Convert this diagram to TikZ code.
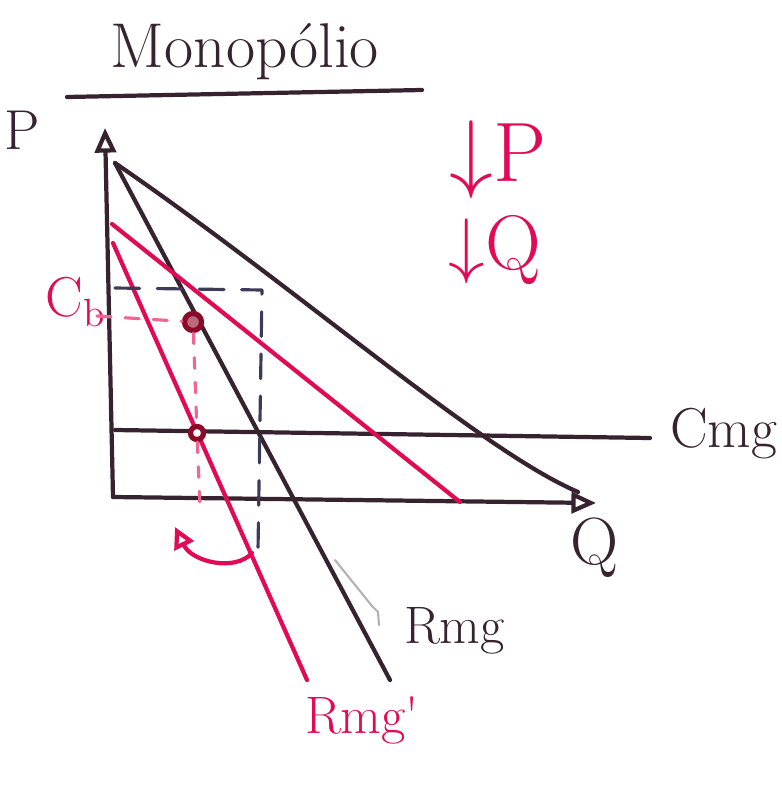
\documentclass[tikz,border=0pt]{standalone}
\usetikzlibrary{arrows.meta}
\definecolor{tinta}{HTML}{372330}
\definecolor{rojo}{HTML}{E10A55}
\definecolor{azul}{HTML}{3C3C5A}
\definecolor{rosa}{HTML}{F06496}
\definecolor{vino}{HTML}{8C0A28}

\begin{document}
\begin{tikzpicture}[x=0.01cm, y=-0.01cm, line width=1.2pt, line cap=round, line join=round,
  every node/.style={inner sep=0pt, text=tinta},
  eje/.style={draw=tinta, -{Triangle[open, length=7pt, width=6pt]}},
  curva/.style={draw=tinta},
  curvaroja/.style={draw=rojo},
  guia/.style={draw=azul, line width=0.9pt, dash pattern=on 7pt off 5pt},
  guiaroja/.style={draw=rosa, line width=0.9pt, dash pattern=on 4pt off 4pt},
  punto/.style={circle, draw=vino, line width=1.5pt, minimum size=#1},
  etiqueta/.style={font=\fontsize{15}{18}\selectfont}]

  \useasboundingbox (0,0) rectangle (782,785);

  % Título subrayado
  \node (titulo) at (245,52) {\fontsize{18}{22}\selectfont Monopólio};
  \coordinate (subA) at (67,97);
  \coordinate (subB) at (422,90);
  \draw[curva] (subA) -- (subB);

  % Ejes P y Q
  \coordinate (O) at (113,497);
  \coordinate (topeP) at (105,128);
  \coordinate (topeQ) at (596,503);
  \draw[eje] (O) -- (topeP);
  \draw[eje] (O) -- (topeQ);
  \node[font=\fontsize{16}{18}\selectfont] (P) at (22,130) {P};
  \node[font=\fontsize{19}{22}\selectfont] (Q) at (595,548) {Q};

  % Demanda y Rmg iniciales
  \coordinate (dA) at (115,163);
  \coordinate (dB) at (578,492);
  \coordinate (rB) at (390,680);
  \draw[curva] (dA) .. controls (300,290) and (480,450) .. (dB);
  \draw[curva] (dA) -- (rB);
  \node[etiqueta, anchor=base west] (Rmg) at (402,643) {Rmg};
  \draw[gray!60, line width=0.6pt] (335,560) -- (372,606) -- (378,612) -- (379,625);

  % Costo marginal
  \coordinate (cA) at (115,430);
  \coordinate (cB) at (650,438);
  \draw[curva] (cA) -- (cB);
  \node[font=\fontsize{16}{18}\selectfont, anchor=base west] (Cmg) at (668,447) {Cmg};

  % Nueva demanda y Rmg'
  \coordinate (nA) at (112,224);
  \coordinate (nB) at (460,502);
  \coordinate (mA) at (113,243);
  \coordinate (mB) at (307,680);
  \draw[curvaroja] (nA) -- (nB);
  \draw[curvaroja] (mA) -- (mB);
  \node[etiqueta, text=rojo, anchor=base west] (Rmgp) at (303,733) {Rmg\textquotesingle};

  % Guías del equilibrio inicial
  \coordinate (gA) at (115,288);
  \coordinate (gB) at (262,290);
  \coordinate (gC) at (258,550);
  \draw[guia] (gA) -- (gB) -- (gC);

  % Nuevo equilibrio
  \node[punto=1.7mm, fill=vino!60] (E1) at (193,322) {};
  \node[punto=1.3mm, fill=white] (E2) at (197,433) {};
  \node[font=\fontsize{16}{18}\selectfont, text=rojo] (C) at (76,302) {C\textsubscript{b}};
  \coordinate (hA) at (97,316);
  \coordinate (bQ) at (200,508);
  \draw[guiaroja] (hA) -- (E1);
  \draw[guiaroja, dash pattern=on 3pt off 4pt] (E1) -- (E2) -- (bQ);

  % Flecha de la caída de Q
  \coordinate (fA) at (252,553);
  \coordinate (fB) at (175,527);
  \draw[rojo, -{Triangle[open, length=6pt, width=6pt]}] (fA) .. controls (235,572) and (192,562) .. (fB);

  % Baja P y baja Q
  \node[font=\fontsize{24}{28}\selectfont, text=rojo] (bajaP) at (498,160) {$\downarrow$P};
  \node[font=\fontsize{22}{26}\selectfont, text=rojo] (bajaQ) at (495,250) {$\downarrow$Q};

\end{tikzpicture}
\end{document}
